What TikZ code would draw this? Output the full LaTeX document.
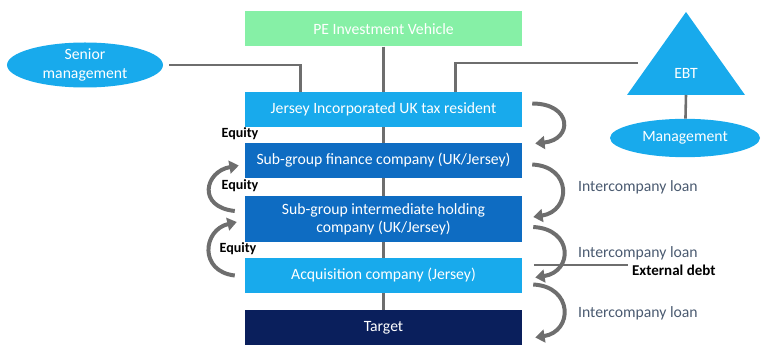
\documentclass[tikz,border=0pt]{standalone}
\usepackage{fontspec}
\setmainfont{Carlito}
\usepackage{xcolor}
\usetikzlibrary{arrows.meta,calc,shapes.geometric}

\definecolor{peGreen}{HTML}{86F0A6}
\definecolor{skyBlue}{HTML}{18AAEC}
\definecolor{midBlue}{HTML}{0E6CC2}
\definecolor{navyBlue}{HTML}{0A1F5C}
\definecolor{linkGrey}{HTML}{6E6E6E}
\definecolor{loanText}{HTML}{4A5A70}

\tikzset{
	entity/.style={rectangle,minimum width=8.31cm,minimum height=1.05cm,text=white,font=\fontsize{13.4}{15.5}\selectfont,align=center,inner sep=0pt},
	holder/.style={ellipse,fill=skyBlue,text=white,font=\fontsize{13.4}{15.5}\selectfont,align=center,inner sep=0pt},
	link/.style={draw=linkGrey,line width=2.2pt},
	flow/.style={draw=linkGrey,line width=3.4pt,-{Triangle[length=8pt,width=11pt]}},
	tag/.style={font=\bfseries\fontsize{12}{14}\selectfont},
	loan/.style={text=loanText,font=\fontsize{13.4}{15.5}\selectfont,anchor=west}
}

\begin{document}
\begin{tikzpicture}[x=0.03cm,y=-0.03cm]
	\useasboundingbox (0,0) rectangle (761,345);
	% structure boxes
	\node[entity,fill=peGreen] (pe) at (383.5,29) {PE Investment Vehicle};
	\node[entity,fill=skyBlue] (jersey) at (383.5,109.5) {Jersey Incorporated UK tax resident};
	\node[entity,fill=midBlue] (fin) at (383.5,160.5) {Sub-group finance company (UK/Jersey)};
	\node[entity,fill=midBlue,minimum height=1.38cm] (mid) at (383.5,219) {Sub-group intermediate holding\\company (UK/Jersey)};
	\node[entity,fill=skyBlue] (acq) at (383.5,275.5) {Acquisition company (Jersey)};
	\node[entity,fill=navyBlue] (target) at (383.5,327.5) {Target};
	% holders
	\node[holder,minimum width=4.68cm,minimum height=1.35cm] (senior) at (85,65) {Senior\\management};
	\fill[skyBlue] (686,12) -- (745,95) -- (627,95) -- cycle;
	\node[text=white,font=\fontsize{13.4}{15.5}\selectfont] (ebt) at (686,73) {EBT};
	\coordinate (ebtl) at (638,63);
	\coordinate (ebtb) at (686,95);
	\node[holder,minimum width=4.5cm,minimum height=1.15cm] (mgmt) at (685,138) {Management};
	% ownership lines
	\draw[link] ([xshift=5pt]senior.east) -| ($(jersey.north west)!0.2!(jersey.north east)$);
	\draw[link] (pe) -- (jersey);
	\draw[link] (ebtl) -| ($(jersey.north west)!0.76!(jersey.north east)$);
	\draw[link] (ebtb) -- (mgmt);
	\draw[link] (jersey) -- (fin);
	\draw[link] (fin) -- (mid);
	\draw[link] (mid) -- (acq);
	\draw[link] (acq) -- (target);
	% equity
	\node[tag] (eq1) at (240,134) {Equity};
	\node[tag] (eq2) at (240,186) {Equity};
	\node[tag] (eq3) at (238,249) {Equity};
	\draw[flow] ([shift={(-10,-8)}]mid.west) .. controls +(-38,-4) and +(-34,6) .. ([shift={(-6,5)}]fin.west);
	\draw[flow] ([shift={(-10,0)}]acq.west) .. controls +(-36,-4) and +(-34,8) .. ([shift={(-8,3)}]mid.west);
	% loans
	\draw[flow] ([shift={(10,-6)}]jersey.east) .. controls +(40,0) and +(38,-4) .. ([shift={(13,-17)}]fin.east);
	\draw[flow] ([shift={(10,4)}]fin.east) .. controls +(40,2) and +(38,-6) .. ([shift={(11,-2)}]mid.east);
	\draw[flow] ([shift={(11,8)}]mid.east) .. controls +(40,2) and +(38,-6) .. ([shift={(13,2)}]acq.east);
	\draw[flow] ([shift={(11,9)}]acq.east) .. controls +(40,2) and +(38,-6) .. ([shift={(13,10)}]target.east);
	\node[loan] (loan1) at (574,187) {Intercompany loan};
	\node[loan] (loan2) at (574,253) {Intercompany loan};
	\node[loan] (loan3) at (574,313) {Intercompany loan};
	% external debt
	\node[tag,anchor=west,font=\bfseries\fontsize{12.8}{15}\selectfont] (debt) at (628,270) {External debt};
	\draw[draw=linkGrey,line width=1.8pt] ([xshift=10pt]acq.east |- 0,265) -- (debt.west |- 0,265);
\end{tikzpicture}
\end{document}
